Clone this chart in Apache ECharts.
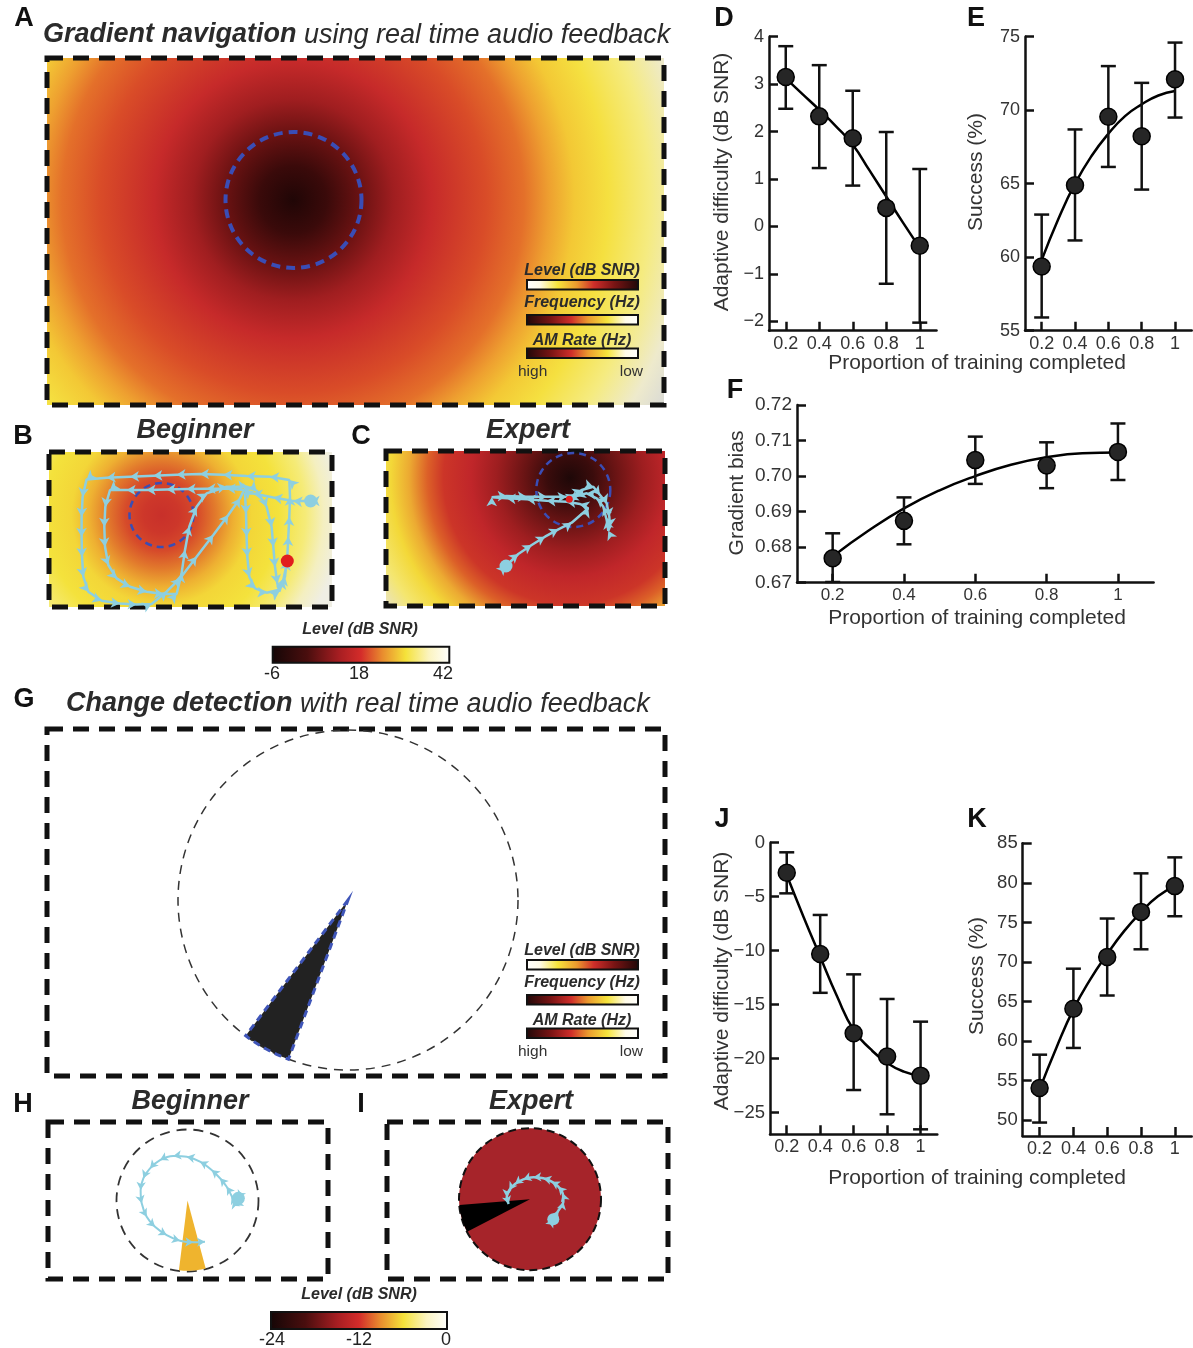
<!DOCTYPE html>
<html><head><meta charset="utf-8">
<script src="https://cdn.jsdelivr.net/npm/echarts@6/dist/echarts.min.js"></script>
<style>html,body{margin:0;padding:0;background:#fff}#c{width:1193px;height:1348px}</style>
</head><body><div id="c"></div>
<script>
// ================= DATA =================
const progress = [0.2, 0.4, 0.6, 0.8, 1.0];
const xTicks = [0.2, 0.4, 0.6, 0.8, 1];
const fitX = [0.2, 0.3, 0.4, 0.5, 0.6, 0.7, 0.8, 0.9, 1.0];

// D: gradient navigation adaptive difficulty
const dMean = [3.15, 2.32, 1.86, 0.39, -0.41];
const dLow  = [2.48, 1.23, 0.86, -1.21, -2.03];
const dHigh = [3.80, 3.40, 2.86, 1.99, 1.21];
const dFit  = [3.12, 2.79, 2.46, 2.11, 1.72, 1.18, 0.63, 0.08, -0.45];
const dTicks = [-2, -1, 0, 1, 2, 3, 4];

// E: gradient navigation success
const eMean = [59.37, 64.89, 69.55, 68.23, 72.1];
const eLow  = [55.9, 61.14, 66.14, 64.6, 69.5];
const eHigh = [62.9, 68.69, 73.0, 71.86, 74.6];
const eFit  = [59.8, 62.6, 65.0, 66.9, 68.4, 69.6, 70.4, 71.0, 71.3];
const eTicks = [55, 60, 65, 70, 75];

// F: gradient bias
const fMean = [0.6769, 0.6874, 0.7045, 0.7030, 0.7068];
const fLow  = [0.6702, 0.6808, 0.6978, 0.6966, 0.6989];
const fHigh = [0.6839, 0.6940, 0.7111, 0.7095, 0.7148];
const fFit  = [0.6774, 0.6846, 0.6909, 0.6960, 0.7000, 0.7032, 0.7053, 0.7064, 0.7066];
const fTicks = [0.67, 0.68, 0.69, 0.70, 0.71, 0.72];

// J: change detection adaptive difficulty
const jMean = [-2.78, -10.3, -17.65, -19.8, -21.57];
const jLow  = [-4.69, -13.9, -22.9, -25.15, -26.54];
const jHigh = [-0.89, -6.69, -12.19, -14.47, -16.57];
const jFit  = [-2.99, -6.85, -10.55, -14.2, -17.34, -19.1, -20.4, -21.2, -21.6];
const jTicks = [-25, -20, -15, -10, -5, 0];

// K: change detection success
const kMean = [54.06, 64.08, 70.62, 76.33, 79.59];
const kLow  = [49.7, 59.13, 65.76, 71.6, 75.78];
const kHigh = [58.28, 69.15, 75.49, 81.2, 83.22];
const kFit  = [53.9, 59.2, 64.0, 67.8, 71.0, 73.9, 76.3, 78.3, 79.6];
const kTicks = [50, 55, 60, 65, 70, 75, 80, 85];

// B / C trajectories (arena units)
const beginnerPathB = [[263.3,49.3],[246,49.3],[226,45.7],[206,41.7],[197.7,41.7],[198.7,61.7],[199.3,85],[200,105],[202,125],[207.7,136.7],[219.3,141],[231,138.3],[237.7,125],[240,105],[241,85],[242,65],[242.7,45],[242,28.3],[222.7,25],[199.3,24.3],[176,23],[152.7,22.3],[129.3,23],[106,24],[82.7,25],[59.3,26],[39.3,27.7],[35.3,45],[34.3,65],[34.3,85],[34.7,105],[36,125],[41,140],[54.3,149],[72.7,151.7],[89.3,152.7],[104.3,152.3],[119.3,140],[132.7,126.7],[149.3,105],[166,83.3],[181,63.3],[192.7,46.7],[196.7,38.3],[179.3,36.7],[159.3,37],[139.3,37.3],[119.3,37.7],[99.3,38.3],[79.3,38.3],[62.7,38.3],[58,55],[57,75],[57.7,95],[61,113.3],[69.3,126.7],[82.7,135],[99.3,140],[116,142.3],[129.3,142.3],[134.3,121.7],[137.7,98.3],[142,75],[149.3,55],[159.3,41.7],[179.3,35],[199.3,35],[209.3,39],[219.3,55],[224.3,75],[226,95],[227.7,115],[230,131.7],[232,140],[236,128.3],[240,109.3]];
const expertPathC = [[121,116],[133.3,104],[146.7,95],[160,86.7],[173.3,79.3],[186.7,72.7],[203.3,58.3],[195,54],[181.7,51.7],[161.7,50.7],[141.7,49.3],[121.7,48.3],[106.7,47.3],[121.7,46],[141.7,46.7],[161.7,46.7],[181.7,46.7],[190,45],[196.7,40],[208.3,36.7],[215,45],[221.7,53.3],[224.3,66.7],[225,76.7],[223.3,80.7],[221.7,70],[218.3,56.7],[211.7,48.3],[201.7,43.3],[191.7,46],[184.3,49.3]];

// H / I trajectories (unit-circle arena)
const beginnerPathH = [[0.716,0.031],[0.669,-0.063],[0.645,0.0],[0.622,0.063],[0.552,0.194],[0.458,0.313],[0.340,0.430],[0.176,0.547],[-0.011,0.617],[-0.200,0.627],[-0.387,0.570],[-0.528,0.453],[-0.622,0.313],[-0.660,0.148],[-0.645,-0.040],[-0.575,-0.228],[-0.458,-0.369],[-0.293,-0.486],[-0.106,-0.566],[0.082,-0.589],[0.246,-0.580]];
const expertPathI = [[0.329,-0.284],[0.400,-0.162],[0.471,-0.035],[0.462,0.083],[0.400,0.177],[0.306,0.247],[0.188,0.295],[0.047,0.309],[-0.094,0.281],[-0.212,0.215],[-0.292,0.130],[-0.329,0.027],[-0.301,-0.068]];

// target sectors [startAngle, endAngle, radius]
const gTarget = [[233, 249.5, 1.0]];
const hTarget = [[263, 285, 0.99]];
const iTarget = [[184.7, 207.4, 1.0]];

const levelTicksTop = ['-6', '18', '42'];
const levelTicksBottom = ['-24', '-12', '0'];

// ================= RENDER =================
const FONT = '"Liberation Sans", Arial, Helvetica, sans-serif';
const font = (st, sz) => `${st} ${sz}px ${FONT}`;
const TXT = '#2b2b2b';
const CYAN = '#8dcfe0';
const chart = echarts.init(document.getElementById('c'), null, {renderer: 'canvas'});

const grids = [
  {left: 769, top: 36.7, width: 167.5, height: 294},    // D 0
  {left: 1025, top: 36.7, width: 166.7, height: 294},   // E 1
  {left: 797, top: 405, width: 356.6, height: 177.7},   // F 2
  {left: 770, top: 842.7, width: 167.3, height: 291.6}, // J 3
  {left: 1022.7, top: 843.3, width: 169, height: 292.7},// K 4
  {left: 47.3, top: 451.7, width: 286, height: 155},    // B 5
  {left: 385, top: 450, width: 282, height: 156.7},     // C 6
  {left: 178, top: 730, width: 340, height: 340},       // G 7
  {left: 116.5, top: 1129.5, width: 142, height: 142},  // H 8
  {left: 459.2, top: 1128.4, width: 141.6, height: 141.6} // I 9
];

const minus = s => String(s).replace('-', '\u2212');
function plotX(gi, fs) {
  return {type: 'value', gridIndex: gi, min: 0.1, max: 1.1,
    axisLine: {show: true, onZero: false, lineStyle: {color: '#111', width: 2.5}},
    axisTick: {show: true, inside: true, length: 9, lineStyle: {color: '#111', width: 2.5}, customValues: xTicks},
    axisLabel: {customValues: xTicks, fontSize: fs, color: '#333', margin: 4, fontFamily: FONT,
      formatter: v => String(+(+v).toFixed(1))},
    splitLine: {show: false}};
}
function plotY(gi, min, max, ticks, fmt, fs) {
  return {type: 'value', gridIndex: gi, min, max,
    axisLine: {show: true, onZero: false, lineStyle: {color: '#111', width: 2.5}},
    axisTick: {show: true, inside: true, length: 9, lineStyle: {color: '#111', width: 2.5}, customValues: ticks},
    axisLabel: {customValues: ticks, fontSize: fs, color: '#333', margin: 5, fontFamily: FONT, formatter: fmt},
    splitLine: {show: false}};
}
function hidden(gi, min, max, inverse) {
  return {type: 'value', gridIndex: gi, min, max, inverse: !!inverse, show: false,
    axisLine: {show: false, onZero: false}, splitLine: {show: false}};
}

const xAxes = [plotX(0, 18), plotX(1, 18), plotX(2, 17), plotX(3, 18), plotX(4, 18),
  hidden(5, 0, 286), hidden(6, 0, 282), hidden(7, -1, 1), hidden(8, -1, 1), hidden(9, -1, 1)];
const yAxes = [
  plotY(0, -2.2, 4, dTicks, v => minus(v), 18),
  plotY(1, 55, 75, eTicks, v => String(v), 18),
  plotY(2, 0.67, 0.72, fTicks, v => (+v).toFixed(2), 19),
  plotY(3, -27, 0, jTicks, v => minus(v), 18.5),
  plotY(4, 48, 85, kTicks, v => String(v), 18.5),
  hidden(5, 0, 155, true), hidden(6, 0, 156.7, true), hidden(7, -1, 1), hidden(8, -1, 1), hidden(9, -1, 1)];

function plotSeries(gi, mean, lo, hi, fit) {
  return [
    {type: 'line', xAxisIndex: gi, yAxisIndex: gi, data: fitX.map((x, i) => [x, fit[i]]),
      smooth: 0.5, symbol: 'none', lineStyle: {color: '#000', width: 2.5}, z: 2},
    {type: 'custom', xAxisIndex: gi, yAxisIndex: gi, z: 3,
      data: progress.map((x, i) => [x, lo[i], hi[i]]), encode: {x: 0, y: [1, 2]},
      renderItem(params, api) {
        const x = api.value(0);
        const t = api.coord([x, api.value(2)]), b = api.coord([x, api.value(1)]);
        const w = 7.5, st = {stroke: '#111', lineWidth: 2.5};
        return {type: 'group', children: [
          {type: 'line', shape: {x1: t[0], y1: t[1], x2: b[0], y2: b[1]}, style: st},
          {type: 'line', shape: {x1: t[0] - w, y1: t[1], x2: t[0] + w, y2: t[1]}, style: st},
          {type: 'line', shape: {x1: b[0] - w, y1: b[1], x2: b[0] + w, y2: b[1]}, style: st}]};
      }},
    {type: 'scatter', xAxisIndex: gi, yAxisIndex: gi, z: 4, data: progress.map((x, i) => [x, mean[i]]),
      symbolSize: 17, itemStyle: {color: '#262626', borderColor: '#000', borderWidth: 1.5, opacity: 1}}
  ];
}

// path data with arrow orientation; pxX/pxY = pixels per unit, yDown true if axis inverted
function arrowData(path, pxX, pxY, yDown) {
  return path.map((p, i) => {
    const a = path[Math.max(0, i - 1)], b = path[Math.min(path.length - 1, i + 1)];
    let dx = (b[0] - a[0]) * pxX, dy = (b[1] - a[1]) * pxY;
    if (yDown) dy = -dy;
    const ang = Math.atan2(dy, dx) * 180 / Math.PI - 90;
    return {value: p, symbolRotate: ang};
  });
}
function trajSeries(gi, path, pxX, pxY, yDown, lw, ss) {
  return {type: 'line', xAxisIndex: gi, yAxisIndex: gi, z: 5, data: arrowData(path, pxX, pxY, yDown),
    symbol: 'arrow', symbolSize: ss, showSymbol: true,
    lineStyle: {color: CYAN, width: lw}, itemStyle: {color: CYAN, borderWidth: 0}};
}
function dotSeries(gi, pt, color, size) {
  return {type: 'scatter', xAxisIndex: gi, yAxisIndex: gi, z: 6, data: [pt], symbolSize: size,
    itemStyle: {color, opacity: 1}};
}
function wedgeSeries(gi, data, fill, stroke, lw, dash) {
  return {type: 'custom', xAxisIndex: gi, yAxisIndex: gi, z: 3, data,
    renderItem(params, api) {
      const a0 = api.value(0) * Math.PI / 180, a1 = api.value(1) * Math.PI / 180, r = api.value(2);
      const pts = [api.coord([0, 0])];
      for (let k = 0; k <= 12; k++) {
        const a = a0 + (a1 - a0) * k / 12;
        pts.push(api.coord([r * Math.cos(a), r * Math.sin(a)]));
      }
      return {type: 'polygon', shape: {points: pts},
        style: {fill, stroke: stroke || null, lineWidth: lw || 0, lineDash: dash || null}};
    }};
}

const series = [
  ...plotSeries(0, dMean, dLow, dHigh, dFit),
  ...plotSeries(1, eMean, eLow, eHigh, eFit),
  ...plotSeries(2, fMean, fLow, fHigh, fFit),
  ...plotSeries(3, jMean, jLow, jHigh, jFit),
  ...plotSeries(4, kMean, kLow, kHigh, kFit),
  trajSeries(5, beginnerPathB, 1, 1, true, 2.5, [8, 9]),
  dotSeries(5, beginnerPathB[0], CYAN, 13),
  dotSeries(5, beginnerPathB[beginnerPathB.length - 1], '#e11d1d', 13),
  trajSeries(6, expertPathC, 1, 1, true, 2.5, [8, 9]),
  dotSeries(6, expertPathC[0], CYAN, 13),
  dotSeries(6, expertPathC[expertPathC.length - 1], '#e11d1d', 7),
  wedgeSeries(7, gTarget, '#222', '#3f55b8', 3, [7, 5]),
  wedgeSeries(8, hTarget, '#efb42e'),
  Object.assign(trajSeries(8, beginnerPathH, 71, 71, false, 2, [7, 8]), {smooth: 0.3}),
  dotSeries(8, beginnerPathH[0], CYAN, 13),
  wedgeSeries(9, iTarget, '#000'),
  Object.assign(trajSeries(9, expertPathI, 71, 71, false, 2.5, [7, 8]), {smooth: 0.3}),
  dotSeries(9, expertPathI[0], CYAN, 12)
];

// ---- decoration ----
const radial = (cx, cy, r, stops) => ({type: 'radial', x: cx, y: cy, r, global: true,
  colorStops: stops.map(s => ({offset: s[0], color: s[1]}))});
const linear = stops => ({type: 'linear', x: 0, y: 0, x2: 1, y2: 0,
  colorStops: stops.map(s => ({offset: s[0], color: s[1]}))});
const gradA = radial(293, 200, 420, [[0,'#200606'],[0.08,'#3a0a0a'],[0.16,'#6a1212'],[0.24,'#a01e20'],[0.33,'#c62a2a'],[0.46,'#d94c28'],[0.55,'#e4702a'],[0.61,'#eea030'],[0.67,'#f3c835'],[0.75,'#f5e040'],[0.85,'#f5eb80'],[0.94,'#eeeacc'],[1,'#dcdcd4']]);
const gradB = radial(161.5, 515, 180, [[0,'#c8302a'],[0.1,'#cd372a'],[0.2,'#d64a2a'],[0.3,'#e27a2c'],[0.4,'#eeb032'],[0.5,'#f3d638'],[0.65,'#f4e23c'],[0.8,'#f5eb78'],[0.9,'#f4efc0'],[1,'#efeee4']]);
const gradC = radial(570, 478, 230, [[0,'#1e0808'],[0.1,'#3a0c0c'],[0.2,'#6a1414'],[0.32,'#9e1e20'],[0.43,'#c0262a'],[0.55,'#cc3528'],[0.62,'#dc6028'],[0.7,'#ecaa32'],[0.78,'#f3d838'],[0.88,'#f4e670'],[1,'#e6e2d4']]);
const barLevel = linear([[0,'#ffffff'],[0.12,'#fffbe8'],[0.28,'#f6e43c'],[0.45,'#eb9a2e'],[0.6,'#cf2e2a'],[0.78,'#7a1414'],[1,'#1e0808']]);
const barFreq = linear([[0,'#1e0808'],[0.22,'#7a1414'],[0.4,'#cf2e2a'],[0.55,'#eb9a2e'],[0.72,'#f6e43c'],[0.88,'#fffbe8'],[1,'#ffffff']]);
const barBottom = linear([[0,'#140606'],[0.2,'#4a0e0e'],[0.38,'#a81e22'],[0.5,'#d42c2a'],[0.62,'#e98c2e'],[0.75,'#f5e23a'],[0.88,'#fbf4c0'],[1,'#ffffff']]);

const g = [];
const frame = (x, y, w, h, fill) => g.push({type: 'rect', z: 0, shape: {x, y, width: w, height: h},
  style: {fill: fill || 'none', stroke: '#111', lineWidth: 5, lineDash: [16, 10]}});
const circle = (cx, cy, r, style) => g.push({type: 'circle', z: 1, shape: {cx, cy, r}, style});
const text = (t, x, y, f, opt) => g.push(Object.assign({type: 'text', z: 10,
  style: Object.assign({text: t, x, y, font: f, fill: TXT, textAlign: 'center', textVerticalAlign: 'middle'}, opt || {})}));
const vtext = (t, x, y, f) => g.push({type: 'text', z: 10, x, y, rotation: Math.PI / 2,
  style: {text: t, x: 0, y: 0, font: f, fill: '#333', textAlign: 'center', textVerticalAlign: 'middle'}});
const bar = (x, y, w, h, fill) => g.push({type: 'rect', z: 2, shape: {x, y, width: w, height: h},
  style: {fill, stroke: '#111', lineWidth: 2}});

// panel A
frame(47, 58, 617, 347, gradA);
circle(293.5, 200, 68, {fill: 'none', stroke: '#3a4db5', lineWidth: 4, lineDash: [9, 6]});
function legendBlock(y0) {
  text('Level (dB SNR)', 582, y0, font('bold italic', 16));
  bar(527, y0 + 9, 111, 9.5, barLevel);
  text('Frequency (Hz)', 582, y0 + 32, font('bold italic', 16));
  bar(527, y0 + 44, 111, 9.5, barFreq);
  text('AM Rate (Hz)', 582, y0 + 70, font('bold italic', 16));
  bar(527, y0 + 77.5, 111, 9.5, barFreq);
  text('high', 518, y0 + 101, font('normal', 15.5), {textAlign: 'left', fill: '#333'});
  text('low', 643, y0 + 101, font('normal', 15.5), {textAlign: 'right', fill: '#333'});
}
legendBlock(271);
// B, C
frame(49, 452, 283, 155, gradB);
circle(161.5, 515, 32, {fill: 'none', stroke: '#3a4db5', lineWidth: 2.5, lineDash: [7, 5]});
frame(386, 451, 279, 155, gradC);
circle(573.3, 490, 37, {fill: 'none', stroke: '#3a4db5', lineWidth: 2.5, lineDash: [7, 5]});
// colorbar top
text('Level (dB SNR)', 360, 630, font('bold italic', 16));
bar(272.7, 646.7, 176.6, 16, barBottom);
text(levelTicksTop[0], 272, 674, font('normal', 18), {fill: '#222'});
text(levelTicksTop[1], 359, 674, font('normal', 18), {fill: '#222'});
text(levelTicksTop[2], 443, 674, font('normal', 18), {fill: '#222'});
// G
frame(47, 729, 618, 347);
circle(348, 900, 170, {fill: 'none', stroke: '#333', lineWidth: 1.5, lineDash: [9, 7]});
legendBlock(951);
// H, I
frame(48, 1122, 280, 157);
circle(187.5, 1200.5, 71, {fill: 'none', stroke: '#333', lineWidth: 1.8, lineDash: [10, 7]});
frame(387, 1122, 281, 157);
circle(530, 1199.2, 71, {fill: '#a6242a', stroke: '#111', lineWidth: 2, lineDash: [8, 5]});
// colorbar bottom
text('Level (dB SNR)', 359, 1295, font('bold italic', 16));
bar(271, 1312, 176, 17, barBottom);
text(levelTicksBottom[0], 272, 1340, font('normal', 18), {fill: '#222'});
text(levelTicksBottom[1], 359, 1340, font('normal', 18), {fill: '#222'});
text(levelTicksBottom[2], 446, 1340, font('normal', 18), {fill: '#222'});

// letters
[['A',24,19],['B',23,437],['C',361,437],['D',724,19],['E',976,19],['F',735,391],['G',24,700],['H',23,1105],['I',361,1105],['J',722,820],['K',977,820]]
  .forEach(l => text(l[0], l[1], l[2], font('bold', 27), {fill: '#111'}));
// titles
g.push({type: 'text', z: 10, style: {text: '{b|Gradient navigation} using real time audio feedback', x: 43, y: 35,
  font: font('italic', 27), fill: TXT, textAlign: 'left', textVerticalAlign: 'middle',
  rich: {b: {font: font('bold italic', 27), fill: TXT}}}});
g.push({type: 'text', z: 10, style: {text: '{b|Change detection} with real time audio feedback', x: 66, y: 704,
  font: font('italic', 27), fill: TXT, textAlign: 'left', textVerticalAlign: 'middle',
  rich: {b: {font: font('bold italic', 27), fill: TXT}}}});
text('Beginner', 195, 431, font('bold italic', 27));
text('Expert', 528, 431, font('bold italic', 27));
text('Beginner', 190, 1102, font('bold italic', 27));
text('Expert', 531, 1102, font('bold italic', 27));
// axis names
vtext('Adaptive difficulty (dB SNR)', 722.5, 182, font('normal', 21));
vtext('Success (%)', 976, 172, font('normal', 21));
vtext('Gradient bias', 737, 493, font('normal', 21));
vtext('Adaptive difficulty (dB SNR)', 722.5, 981, font('normal', 21));
vtext('Success (%)', 977, 976, font('normal', 21));
text('Proportion of training completed', 977, 363, font('normal', 21), {fill: '#333'});
text('Proportion of training completed', 977, 618, font('normal', 21), {fill: '#333'});
text('Proportion of training completed', 977, 1178, font('normal', 21), {fill: '#333'});

chart.setOption({
  animation: false,
  backgroundColor: '#fff',
  grid: grids,
  xAxis: xAxes,
  yAxis: yAxes,
  series,
  graphic: {elements: g}
});
</script>
</body></html>
